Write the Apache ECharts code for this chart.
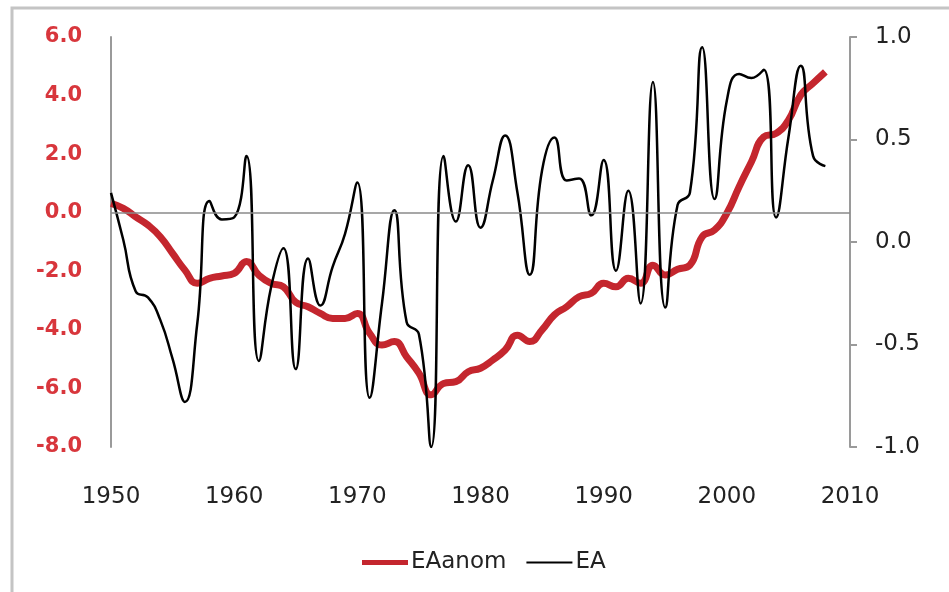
<!DOCTYPE html>
<html>
<head>
<meta charset="utf-8">
<script src="https://cdn.jsdelivr.net/npm/echarts@6/dist/echarts.min.js"></script>
<style>
  html, body { margin: 0; padding: 0; background: #fff; }
  #main { width: 949px; height: 592px; }
</style>
</head>
<body>
<div id="main"></div>
<script>
// years 1950-2008
var years = [];
for (var y = 1950; y <= 2008; y++) years.push(y);

// EAanom (left axis)
var eaAnom = [
    0.32, 0.15, -0.14, -0.42, -0.82, -1.39, -1.96, -2.41, -2.24, -2.16,
    -2.07, -1.67, -2.13, -2.41, -2.53, -3.06, -3.21, -3.44, -3.61, -3.61,
    -3.44, -4.12, -4.52, -4.40, -4.92, -5.48, -6.22, -5.83, -5.77, -5.43,
    -5.31, -5.03, -4.69, -4.18, -4.40, -4.00, -3.49, -3.21, -2.87, -2.75,
    -2.41, -2.53, -2.24, -2.41, -1.79, -2.13, -1.93, -1.79, -0.82, -0.59,
    -0.02, 0.89, 1.74, 2.59, 2.71, 3.16, 4.02, 4.42, 4.81
];

// EA (right axis)
var ea = [
    0.24, 0.01, -0.24, -0.27, -0.38, -0.57, -0.78, -0.40, 0.20, 0.11,
    0.12, 0.42, -0.58, -0.22, -0.03, -0.62, -0.08, -0.31, -0.12, 0.04,
    0.29, -0.76, -0.30, 0.155, -0.39, -0.45, -1.00, 0.42, 0.10, 0.375,
    0.07, 0.30, 0.52, 0.24, -0.16, 0.35, 0.51, 0.30, 0.31, 0.13,
    0.40, -0.14, 0.25, -0.30, 0.78, -0.32, 0.18, 0.24, 0.95, 0.21,
    0.69, 0.82, 0.80, 0.84, 0.12, 0.51, 0.86, 0.42, 0.37
];

var xTicks = [1950, 1960, 1970, 1980, 1990, 2000, 2010];

var font = 'DejaVu Sans';
var red = '#c4262e';

// 图例线条 (46x14 的框, 中间一条横线)
var iconThick = 'path://M0,0h0.05v0.05h-0.05Z M0,4.5H46V9.5H0Z M45.95,13.95h0.05v0.05h-0.05Z';
var iconThin = 'path://M0,0h0.05v0.05h-0.05Z M0,6H46V8H0Z M45.95,13.95h0.05v0.05h-0.05Z';

var chart = echarts.init(document.getElementById('main'));

var option = {
    backgroundColor: '#fff',
    animation: false,
    // 外框
    graphic: [{
        type: 'rect',
        shape: { x: 12, y: 8, width: 960, height: 620 },
        style: { fill: 'none', stroke: '#c4c4c4', lineWidth: 3 },
        silent: true
    }],
    grid: { left: 111, right: 99, top: 37, bottom: 145 },
    legend: {
        left: 357,
        top: 546,
        itemWidth: 46,
        itemHeight: 14,
        itemGap: 20,
        symbolKeepAspect: false,
        textStyle: { fontFamily: font, fontSize: 23, color: '#222', padding: [0, 0, 0, -2] },
        data: [
            { name: 'EAanom', icon: iconThick, itemStyle: { color: red } },
            { name: 'EA', icon: iconThin, itemStyle: { color: '#000' } }
        ]
    },
    xAxis: {
        type: 'value',
        min: xTicks[0],
        max: xTicks[xTicks.length - 1],
        interval: 10,
        axisLine: { show: false },
        axisTick: { show: false },
        splitLine: { show: false },
        axisLabel: {
            margin: 39, fontFamily: font, fontSize: 23, color: '#222',
            formatter: function (v) { return String(v); }
        }
    },
    yAxis: [{
        type: 'value',
        min: -8,
        max: 6,
        interval: 2,
        axisLine: { show: true, lineStyle: { color: '#9a9a9a', width: 2 } },
        axisTick: { show: false },
        splitLine: { show: false },
        axisLabel: {
            margin: 29,
            fontFamily: font,
            fontSize: 21,
            fontWeight: 'bold',
            color: '#d8363c',
            formatter: function (v) { return v.toFixed(1); }
        }
    }, {
        type: 'value',
        position: 'right',
        min: -1,
        max: 1,
        interval: 0.5,
        axisLine: { show: true, lineStyle: { color: '#9a9a9a', width: 2 } },
        axisTick: { show: true, length: 7, lineStyle: { color: '#9a9a9a', width: 2 } },
        splitLine: { show: false },
        axisLabel: {
            margin: 25,
            fontFamily: font,
            fontSize: 23,
            color: '#222',
            formatter: function (v) { return v.toFixed(1); }
        }
    }],
    series: [{
        name: 'EAanom',
        type: 'line',
        yAxisIndex: 0,
        smooth: true,
        symbol: 'none',
        color: red,
        lineStyle: { color: red, width: 7 },
        data: years.map(function (yr, i) { return [yr, eaAnom[i]]; }),
        // 零线
        markLine: {
            silent: true,
            symbol: 'none',
            label: { show: false },
            lineStyle: { color: '#8a8a8a', width: 1.5, type: 'solid' },
            data: [{ yAxis: 0 }]
        },
        z: 2
    }, {
        name: 'EA',
        type: 'line',
        yAxisIndex: 1,
        smooth: true,
        symbol: 'none',
        color: '#000',
        lineStyle: { color: '#000', width: 2.5 },
        data: years.map(function (yr, i) { return [yr, ea[i]]; }),
        z: 3
    }]
};

chart.setOption(option);
</script>
</body>
</html>
